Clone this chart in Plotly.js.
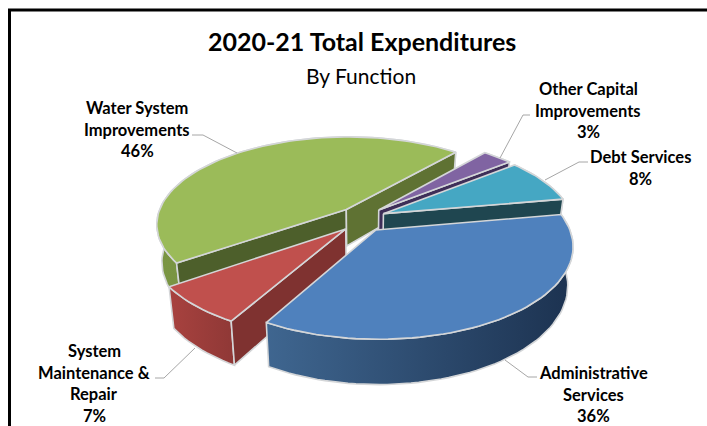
<!DOCTYPE html>
<html>
<head>
<meta charset="utf-8">
<script src="https://cdn.plot.ly/plotly-3.0.1.min.js"></script>
<style>html,body{margin:0;padding:0;background:#fff}#chart{width:707px;height:426px}</style>
</head>
<body>
<div id="chart"></div>
<script>
// Expenditure shares by function, in percent, drawn clockwise from the start angle
const categories = ['Administrative Services', 'System Maintenance & Repair', 'Water System Improvements', 'Other Capital Improvements', 'Debt Services'];
const shares = [36, 7, 46, 3, 8];
const labelLines = [
  ['Administrative', 'Services', '36%'],
  ['System', 'Maintenance &', 'Repair', '7%'],
  ['Water System', 'Improvements', '46%'],
  ['Other Capital', 'Improvements', '3%'],
  ['Debt Services', '8%']
];
const labelAnchors = [[593, 373], [94, 351], [137, 108], [588, 89], [640, 157]];
const leaderX = [[537, 528, 505], [155, 164, 195], [192, 203, 237], [530, 523, 500], [588, 579, 545]];
const leaderY = [[377, 377, 360], [378, 378, 348], [135, 135, 153], [115, 115, 158], [162, 162, 180]];
const topColors = ['#4f81bd', '#c0504d', '#9bbb59', '#8064a2', '#45a7c3'];
const wallColors = [['#3f6690', '#1c3250'], ['#a8423f', '#8f3836'], ['#7a9543', '#728c3e'], ['#5f4a7a', '#5f4a7a'], ['#2a6a7c', '#2a6a7c']];
const lowFaceColors = ['#2a466a', '#7f3230', '#5f7233', '#3e2e58', '#1f4650'];
const highFaceColors = ['#2a466a', '#7f3230', '#4d5f2b', '#3e2e58', '#1f4650'];
const drawOrder = [2, 3, 4, 1, 0];

// Tilted-disc projection of the exploded pie; the lower rim converges slightly
const startAngle = 10, radius = 190, centerX = 362, centerY = 219;
const tilt = 0.46, perspective = 0.164, explodeX = 0.125, explodeY = 0.15, depth = 37, lowerScale = 0.975;
const rad = d => d * Math.PI / 180;

function project(wx, wy, lowered) {
  const s = 1 / (1 + perspective * wy);
  const sx = radius * wx * s * (lowered ? lowerScale : 1);
  return [centerX + sx, centerY - radius * tilt * wy * s + (lowered ? depth * s : 0)];
}

function arcPoints(ox, oy, from, to, lowered) {
  const pts = [], n = Math.max(8, Math.ceil(Math.abs(from - to) / 2));
  for (let i = 0; i <= n; i++) {
    const a = rad(from + (to - from) * i / n);
    pts.push(project(ox + Math.cos(a), oy + Math.sin(a), lowered));
  }
  return pts;
}

const poly = (pts, fill, grad) => {
  const t = {
    type: 'scatter', mode: 'lines', x: pts.map(p => p[0]), y: pts.map(p => p[1]),
    fill: 'toself', fillcolor: fill, hoverinfo: 'skip', showlegend: false,
    line: {color: '#d4d6d8', width: 1.6}
  };
  if (grad) t.fillgradient = {type: 'horizontal', colorscale: [[0, grad[0]], [1, grad[1]]]};
  return t;
};

// Start and end angle of every slice, going clockwise
const spans = [];
let cursor = startAngle;
shares.forEach(v => { const next = cursor - v * 3.6; spans.push([cursor, next]); cursor = next; });

const traces = [];
drawOrder.forEach(i => {
  const [high, low] = spans[i];
  const mid = rad((high + low) / 2);
  const ox = explodeX * Math.cos(mid), oy = explodeY * Math.sin(mid);
  const apexTop = project(ox, oy, false), apexBottom = project(ox, oy, true);
  const topArc = arcPoints(ox, oy, high, low, false);
  const lowerArc = arcPoints(ox, oy, low, high, true);

  traces.push(poly(topArc.concat(lowerArc, [topArc[0]]), wallColors[i][0], wallColors[i]));

  // A cut face shows only when it turns toward the viewer
  if (Math.cos(rad(high)) < 0) {
    const a = topArc[0], b = lowerArc[lowerArc.length - 1];
    traces.push(poly([apexTop, a, b, apexBottom, apexTop], highFaceColors[i]));
  }
  if (Math.cos(rad(low)) > 0) {
    const a = topArc[topArc.length - 1], b = lowerArc[0];
    traces.push(poly([apexTop, a, b, apexBottom, apexTop], lowFaceColors[i]));
  }
  traces.push(poly([apexTop].concat(topArc, [apexTop]), topColors[i]));
});

categories.forEach((name, i) => {
  traces.push({
    type: 'scatter', mode: 'lines', name, x: leaderX[i], y: leaderY[i], hoverinfo: 'skip', showlegend: false,
    line: {color: '#a6a6a6', width: 1}
  });
});

const labelFont = {family: 'Lato, Carlito, sans-serif', size: 16.5, color: '#000'};
const annotations = [];
labelLines.forEach((lines, i) => {
  lines.forEach((line, j) => {
    annotations.push({
      xref: 'x', yref: 'y', x: labelAnchors[i][0], y: labelAnchors[i][1] + j * 21.6,
      text: '<b>' + line.replace('&', '&amp;') + '</b>', showarrow: false,
      xanchor: 'center', yanchor: 'middle', font: labelFont
    });
  });
});
annotations.push(
  {xref: 'x', yref: 'y', x: 362, y: 41, text: '<b>2020-21 Total Expenditures</b>', showarrow: false,
   xanchor: 'center', yanchor: 'middle', font: {family: 'Lato, Carlito, sans-serif', size: 25, color: '#000'}},
  {xref: 'x', yref: 'y', x: 361, y: 75, text: 'By Function', showarrow: false,
   xanchor: 'center', yanchor: 'middle', font: {family: 'Lato, Carlito, sans-serif', size: 21, color: '#000'}}
);

const layout = {
  width: 707, height: 426, margin: {l: 0, r: 0, t: 0, b: 0},
  paper_bgcolor: '#fff', plot_bgcolor: '#fff', showlegend: false,
  xaxis: {range: [0, 707], visible: false, fixedrange: true},
  yaxis: {range: [426, 0], visible: false, fixedrange: true},
  annotations,
  shapes: [
    {type: 'line', xref: 'x', yref: 'y', x0: 9.5, x1: 9.5, y0: 426, y1: 10, line: {color: '#000', width: 3}},
    {type: 'line', xref: 'x', yref: 'y', x0: 8, x1: 707, y0: 10, y1: 10, line: {color: '#000', width: 3}}
  ]
};

Plotly.newPlot('chart', traces, layout, {displayModeBar: false, staticPlot: true});
</script>
</body>
</html>
